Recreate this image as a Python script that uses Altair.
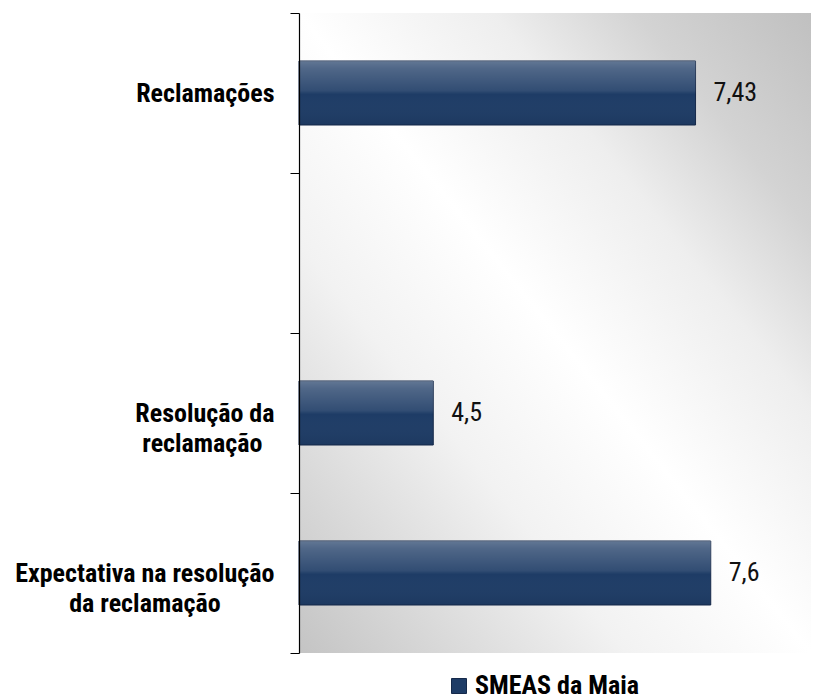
import json
import altair as alt
import pandas as pd

# ---- data ----
categorias = ["Reclamações", "Resolução da reclamação", "Expectativa na resolução da reclamação"]
valores = [7.43, 4.5, 7.6]
ordem_eixo = ["Reclamações", " ", "Resolução da reclamação", "Expectativa na resolução da reclamação"]
linhas_rotulo = {
    "Resolução da reclamação": ["Resolução da", "reclamação"],
    "Expectativa na resolução da reclamação": ["Expectativa na resolução", "da reclamação"],
}
serie = "SMEAS da Maia"
dominio_x = [3, 8.72]

df = pd.DataFrame({"categoria": categorias, "valor": valores, "serie": [serie] * len(categorias)})

FONT = "'Liberation Sans Narrow', 'Arial Narrow', 'Roboto Condensed', 'DejaVu Sans Condensed', sans-serif"
NBSP = "\u00a0"
WJ = "\u2060"  # invisible word joiner keeps the padding from being trimmed


def centrar(linhas):
    # lines are right-aligned by the axis; pad the shorter ones so they look centred
    w = max(len(s) for s in linhas)
    out = []
    for s in linhas:
        n = round((w - len(s)) * 0.85)
        out.append(s + NBSP * n + WJ if n > 0 else s)
    return out


# label expression for multi-line axis labels
expr = "datum.label"
for k, v in linhas_rotulo.items():
    expr = f"datum.value == {json.dumps(k)} ? {json.dumps(centrar(v))} : ({expr})"

y_enc = alt.Y(
    "categoria:N",
    scale=alt.Scale(domain=ordem_eixo, paddingInner=0, paddingOuter=0),
    axis=alt.Axis(
        title=None,
        tickBand="extent",
        tickSize=9,
        tickColor="#000000",
        domainColor="#000000",
        domainWidth=1.2,
        labelFont=FONT,
        labelFontSize=26,
        labelFontWeight="bold",
        labelColor="#000000",
        labelPadding=16,
        labelLimit=400,
        labelLineHeight=30,
        labelExpr=expr,
        zindex=2,
    ),
)
x_enc = alt.X("valor:Q", scale=alt.Scale(domain=dominio_x, clamp=True, nice=False, zero=False), axis=None)

bg = alt.Chart(alt.Data(values=[{}])).mark_rect(
    fill={
        "gradient": "linear", "x1": 0, "y1": 1, "x2": 1, "y2": 0,
        "stops": [
            {"offset": 0, "color": "#c4c4c4"},
            {"offset": 0.14, "color": "#d8d8d8"},
            {"offset": 0.32, "color": "#f2f2f2"},
            {"offset": 0.5, "color": "#ffffff"},
            {"offset": 0.69, "color": "#eeeeee"},
            {"offset": 0.83, "color": "#d3d3d3"},
            {"offset": 1, "color": "#c0c0c0"},
        ],
    }
).encode(x=alt.value(0), x2=alt.value("width"), y=alt.value(0), y2=alt.value("height"))

bars = alt.Chart(df).mark_bar(size=64, stroke="#15294a", strokeWidth=1).encode(
    y=y_enc,
    x=x_enc,
    color=alt.Color(
        "serie:N",
        scale=alt.Scale(range=["#1e3c66"]),
        legend=alt.Legend(
            title=None,
            orient="none",
            legendX=147,
            legendY=660,
            symbolType="square",
            symbolSize=225,
            symbolStrokeColor="#15294a",
            symbolStrokeWidth=1,
            labelFont=FONT,
            labelFontSize=26,
            labelFontWeight="bold",
            labelColor="#000000",
            labelOffset=3,
            labelLimit=400,
        ),
    ),
)

overlay = alt.Chart(df).mark_bar(
    size=64,
    fill={
        "gradient": "linear", "x1": 0, "y1": 0, "x2": 0, "y2": 1,
        "stops": [
            {"offset": 0, "color": "rgba(255,255,255,0.30)"},
            {"offset": 0.12, "color": "rgba(255,255,255,0.22)"},
            {"offset": 0.46, "color": "rgba(255,255,255,0.09)"},
            {"offset": 0.52, "color": "rgba(255,255,255,0.0)"},
            {"offset": 1, "color": "rgba(0,0,0,0.06)"},
        ],
    },
).encode(y=y_enc, x=x_enc)

text = alt.Chart(df).transform_calculate(
    rotulo="replace(toString(datum.valor), '.', ',')"
).mark_text(align="left", baseline="middle", dx=18, font=FONT, fontSize=26, color="#111111").encode(
    y=y_enc, x=x_enc, text="rotulo:N"
)

chart = alt.layer(bg, bars, overlay, text).properties(
    width=512,
    height=640,
    padding={"left": 291, "top": 5, "right": 0, "bottom": 47},
    autosize=alt.AutoSizeParams(type="none"),
).configure_view(stroke=None)

chart.save("out.html", embed_options={"renderer": "svg", "actions": False})
